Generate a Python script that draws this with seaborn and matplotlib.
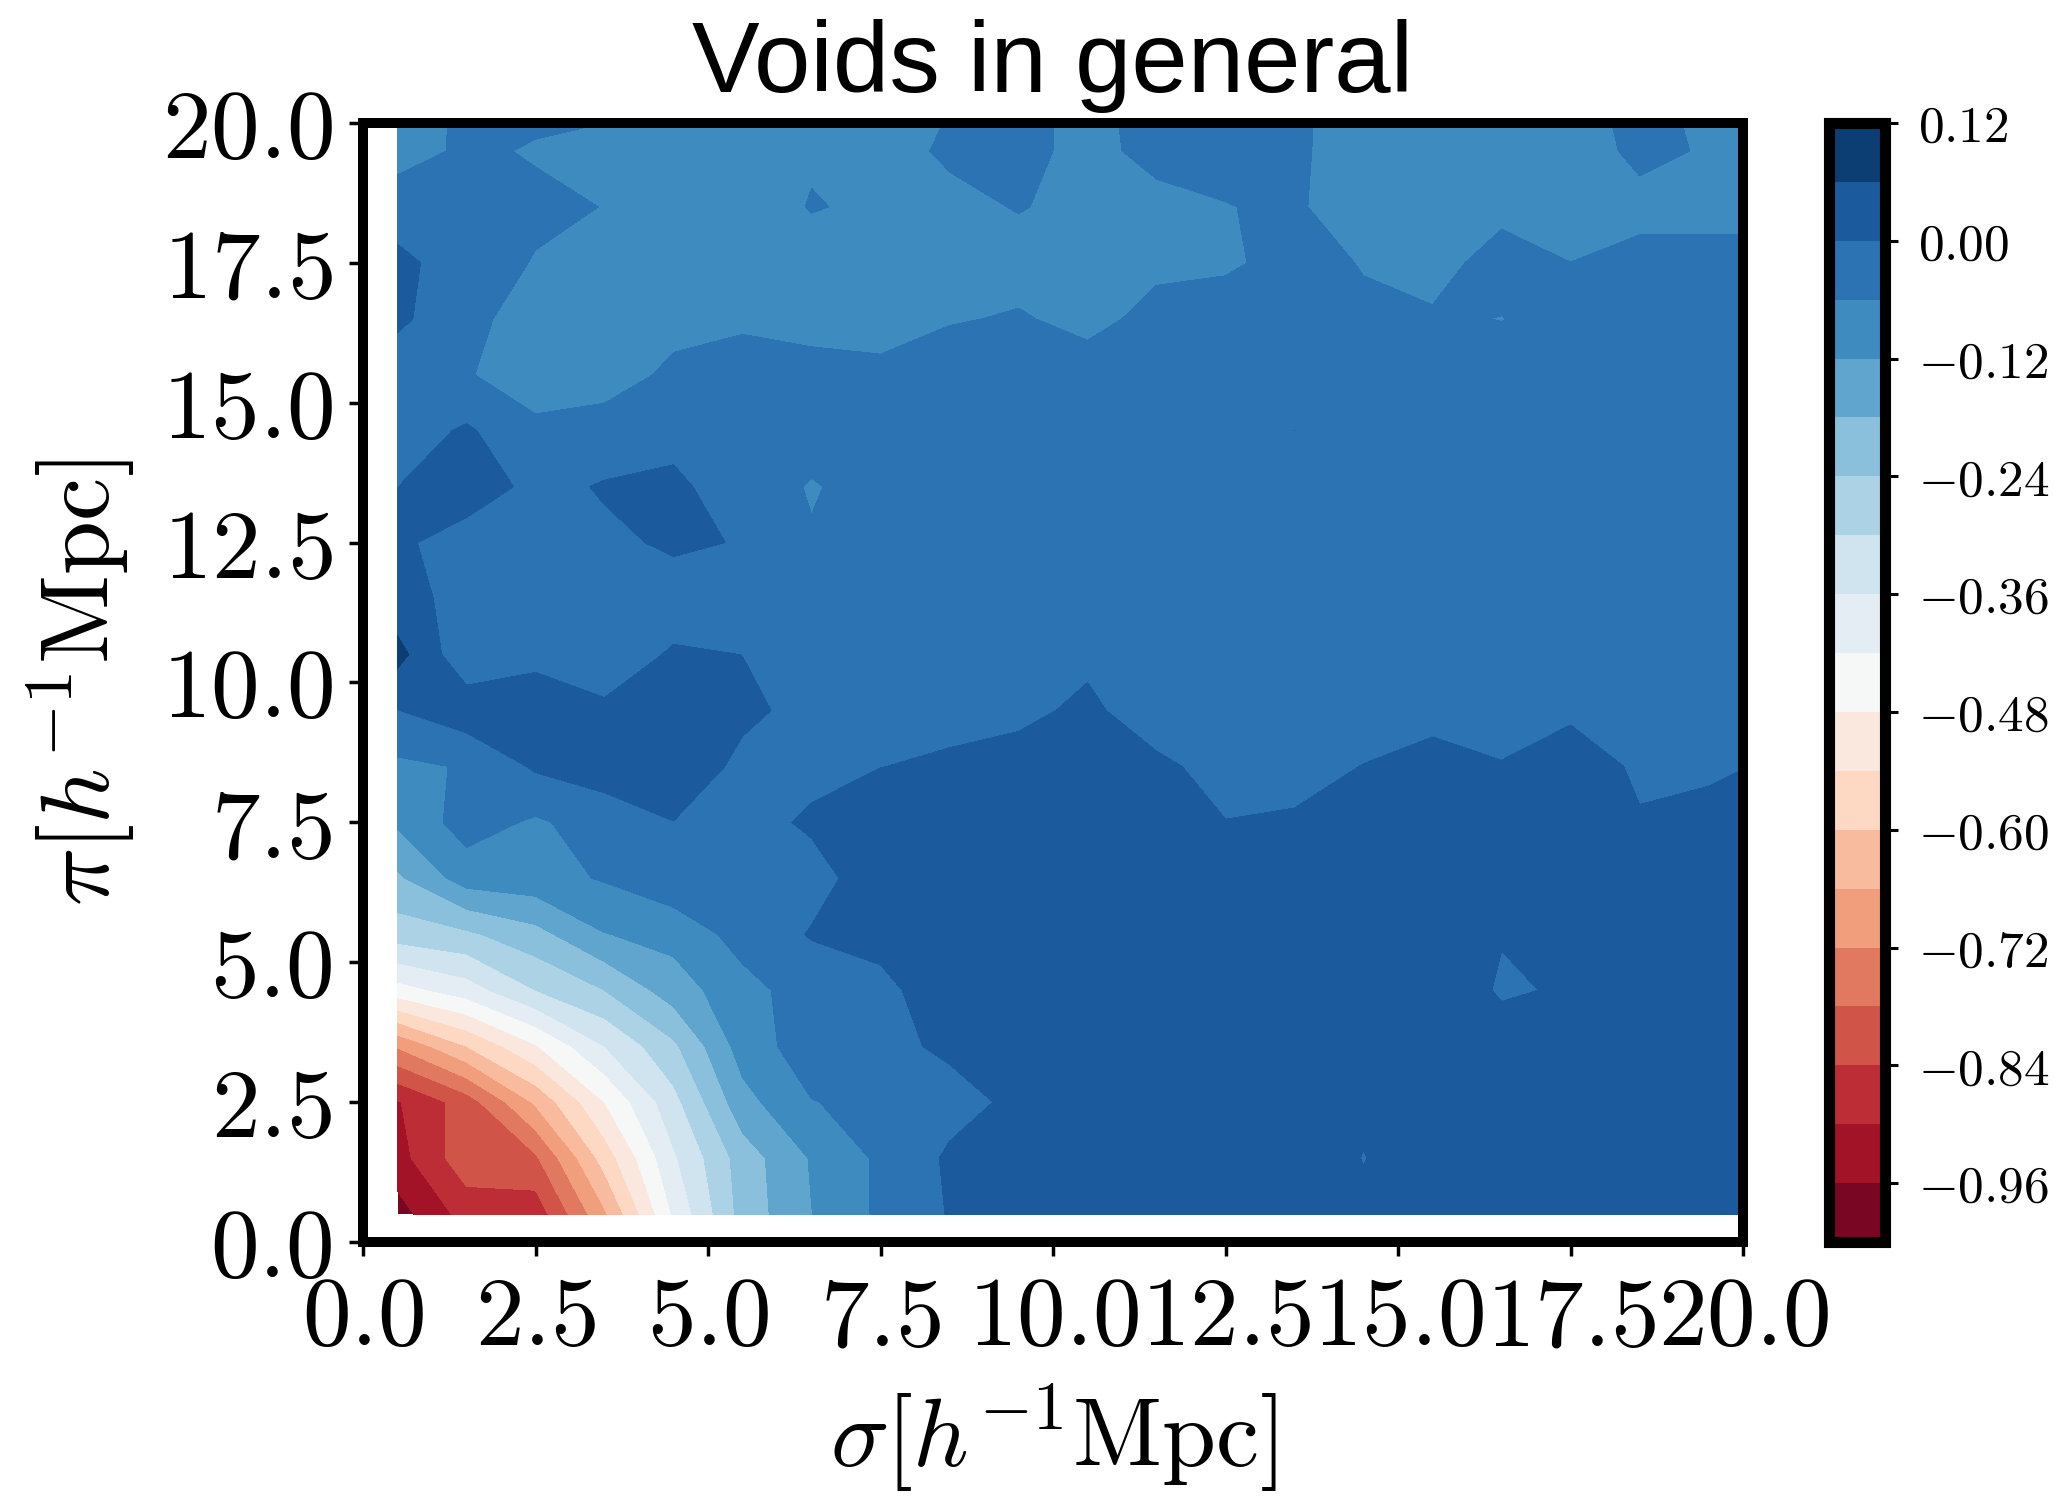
import numpy as np
import matplotlib
matplotlib.use('Agg')
import matplotlib.pyplot as plt
import seaborn as sns
from matplotlib.ticker import FuncFormatter

# bin centres (h^-1 Mpc)
sigma = np.arange(0.5, 21.0, 1.0)
pi = np.arange(0.5, 21.0, 1.0)

# xi(sigma, pi), one list per pi bin (sigma = 0.5 ... 20.5)
xi_pi00 = [-0.985, -0.876, -0.877, -0.670, -0.412, -0.217, -0.121, -0.049, 0.0035, 0.020, 0.025, 0.022, 0.025, 0.020, 0.006, 0.025, 0.020, 0.025, 0.020, 0.025, 0.020]
xi_pi01 = [-0.924, -0.803, -0.790, -0.574, -0.369, -0.212, -0.115, -0.049, 0.0086, 0.020, 0.025, 0.020, 0.025, 0.020, -0.001, 0.020, 0.025, 0.020, 0.025, 0.020, 0.020]
xi_pi02 = [-0.905, -0.811, -0.650, -0.480, -0.320, -0.141, -0.062, -0.045, -0.020, 0.0117, 0.025, 0.020, 0.020, 0.025, 0.006, 0.020, 0.025, 0.020, 0.020, 0.025, 0.020]
xi_pi03 = [-0.714, -0.600, -0.485, -0.360, -0.252, -0.093, -0.028, -0.015, 0.0096, 0.020, 0.025, 0.020, 0.025, 0.020, 0.025, 0.020, 0.016, 0.025, 0.020, 0.025, 0.020]
xi_pi04 = [-0.445, -0.390, -0.300, -0.240, -0.150, -0.080, -0.032, -0.005, 0.011, 0.020, 0.025, 0.020, 0.020, 0.025, 0.020, 0.0246, -0.004, 0.0035, 0.020, 0.025, 0.020]
xi_pi05 = [-0.272, -0.251, -0.2006, -0.122, -0.100, -0.0375, 0.004, 0.006, 0.020, 0.025, 0.020, 0.025, 0.020, 0.025, 0.020, 0.025, 0.0017, 0.020, 0.025, 0.020, 0.020]
xi_pi06 = [-0.190, -0.092, -0.082, -0.055, -0.017, -0.025, -0.020, 0.030, 0.020, 0.025, 0.020, 0.025, 0.020, 0.025, 0.020, 0.025, 0.020, 0.025, 0.020, 0.025, 0.020]
xi_pi07 = [-0.111, -0.034, -0.0685, -0.0315, -0.0005, -0.020, 0.008, 0.020, 0.025, 0.020, 0.025, 0.020, 0.001, 0.010, 0.025, 0.020, 0.025, 0.020, 0.0028, 0.020, 0.025]
xi_pi08 = [-0.072, -0.0556, 0.0085, 0.028, 0.020, -0.007, -0.015, -0.0005, 0.005, 0.020, 0.020, 0.010, -0.017, -0.029, 0.002, 0.020, 0.005, 0.020, -0.006, -0.011, 0.008]
xi_pi09 = [-0.001, 0.037, 0.020, 0.006, 0.015, 0.006, -0.0086, -0.020, -0.010, -0.012, 0.010, -0.027, -0.030, -0.035, -0.040, -0.018, -0.040, -0.007, -0.030, -0.030, -0.020]
xi_pi10 = [0.080, -0.045, -0.0094, -0.020, 0.004, -0.0002, -0.020, -0.025, -0.030, -0.025, -0.010, -0.030, -0.030, -0.030, -0.035, -0.030, -0.035, -0.030, -0.030, -0.035, -0.030]
xi_pi11 = [0.020, -0.0185, -0.030, -0.030, -0.018, -0.025, -0.030, -0.030, -0.035, -0.030, -0.030, -0.035, -0.030, -0.035, -0.030, -0.030, -0.035, -0.030, -0.035, -0.030, -0.030]
xi_pi12 = [0.010, -0.025, -0.030, -0.0085, 0.006, -0.002, -0.055, -0.035, -0.030, -0.035, -0.030, -0.030, -0.035, -0.030, -0.035, -0.030, -0.030, -0.035, -0.030, -0.035, -0.030]
xi_pi13 = [-0.0004, 0.031, -0.0146, 0.004, 0.010, -0.0257, -0.065, -0.035, -0.030, -0.035, -0.030, -0.035, -0.030, -0.035, -0.030, -0.035, -0.030, -0.030, -0.035, -0.030, -0.035]
xi_pi14 = [-0.030, 0.0079, -0.045, -0.030, -0.0156, -0.030, -0.032, -0.035, -0.030, -0.035, -0.030, -0.035, -0.030, 0.0002, -0.035, -0.030, -0.035, -0.030, -0.035, -0.030, -0.035]
xi_pi15 = [-0.030, -0.0552, -0.095, -0.091, -0.0467, -0.034, -0.045, -0.053, -0.038, -0.030, -0.044, -0.035, -0.030, -0.035, -0.040, -0.040, -0.040, -0.035, -0.040, -0.035, -0.040]
xi_pi16 = [0.010, -0.035, -0.100, -0.090, -0.080, -0.070, -0.075, -0.072, -0.063, -0.0567, -0.070, -0.050, -0.030, -0.030, -0.050, -0.055, -0.061, -0.045, -0.040, -0.040, -0.040]
xi_pi17 = [0.005, -0.010, -0.066, -0.085, -0.085, -0.085, -0.076, -0.080, -0.075, -0.074, -0.075, -0.0667, -0.069, -0.040, -0.063, -0.075, -0.043, -0.0598, -0.050, -0.050, -0.050]
xi_pi18 = [-0.010, -0.030, -0.040, -0.062, -0.085, -0.080, -0.058, -0.066, -0.070, -0.058, -0.070, -0.070, -0.061, -0.055, -0.081, -0.085, -0.0713, -0.075, -0.070, -0.070, -0.070]
xi_pi19 = [-0.098, -0.044, -0.068, -0.080, -0.085, -0.085, -0.064, -0.075, -0.054, -0.050, -0.070, -0.050, -0.050, -0.050, -0.090, -0.085, -0.080, -0.078, -0.052, -0.063, -0.070]
xi_pi20 = [-0.090, -0.050, -0.030, -0.040, -0.080, -0.080, -0.075, -0.075, -0.062, -0.050, -0.070, -0.045, -0.045, -0.050, -0.085, -0.085, -0.080, -0.070, -0.050, -0.070, -0.070]

xi = np.array([xi_pi00, xi_pi01, xi_pi02, xi_pi03, xi_pi04, xi_pi05, xi_pi06,
               xi_pi07, xi_pi08, xi_pi09, xi_pi10, xi_pi11, xi_pi12, xi_pi13,
               xi_pi14, xi_pi15, xi_pi16, xi_pi17, xi_pi18, xi_pi19, xi_pi20])

levels = np.round(np.arange(-1.02, 0.1201, 0.06), 2)
axis_ticks = np.arange(0, 20.01, 2.5)

sns.set_style('ticks')
plt.rcParams['mathtext.fontset'] = 'cm'
plt.rcParams['font.family'] = ['Liberation Sans', 'DejaVu Sans']
plt.rcParams['text.color'] = 'black'
plt.rcParams['axes.labelcolor'] = 'black'

fig = plt.figure(figsize=(20.65, 14.98), dpi=100)
ax = fig.add_axes([0.1758, 0.1709, 0.6683, 0.747])
cax = fig.add_axes([0.8857, 0.1709, 0.0271, 0.747])

cmap = sns.color_palette('RdBu', as_cmap=True)
cf = ax.contourf(sigma, pi, xi, levels=levels, cmap=cmap)

ax.set_xlim(0, 20)
ax.set_ylim(0, 20)
ax.set_xticks(axis_ticks)
ax.set_yticks(axis_ticks)
ax.xaxis.set_major_formatter(FuncFormatter(lambda v, p: r'$%.1f$' % v))
ax.yaxis.set_major_formatter(FuncFormatter(lambda v, p: r'$%.1f$' % v))
ax.tick_params(axis='both', direction='out', length=10, width=2.5,
               labelsize=70, colors='black')
ax.tick_params(axis='x', pad=14)
ax.tick_params(axis='y', pad=12)
for s in ax.spines.values():
    s.set_linewidth(7.2)
    s.set_color('black')

ax.set_xlabel(r'$\sigma[h^{-1}\mathrm{Mpc}]$', fontsize=70, labelpad=12, color='black')
ax.set_ylabel(r'$\pi[h^{-1}\mathrm{Mpc}]$', fontsize=70, labelpad=18, color='black')
ax.set_title('Voids in general', fontsize=73, pad=22, color='black')

cb = fig.colorbar(cf, cax=cax, ticks=levels[1::2])
cb.ax.yaxis.set_major_formatter(FuncFormatter(lambda v, p: r'$%.2f$' % (round(v, 2) + 0.0)))
cb.ax.tick_params(direction='out', length=9.5, width=2.2, labelsize=37, pad=14,
                  colors='black')
cb.outline.set_linewidth(8)
cb.outline.set_edgecolor('black')

fig.savefig('out.png', dpi=100)
